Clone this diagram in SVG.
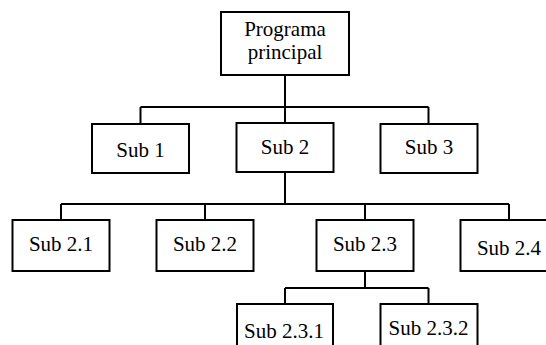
<svg xmlns="http://www.w3.org/2000/svg" width="546" height="345" viewBox="0 0 546 345">
  <style>
    .box { fill: #ffffff; stroke: #000000; stroke-width: 2; }
    .link { fill: none; stroke: #000000; stroke-width: 2; }
    .label { font-family: 'Liberation Serif', 'Times New Roman', Times, 'DejaVu Serif', serif; font-size: 21px; fill: #000000; text-anchor: middle; }
  </style>
  <rect width="546" height="345" fill="#ffffff"/>

  <!-- hierarchy connectors -->
  <g id="connectors">
    <path class="link" d="M285 75 V107 M140.5 107 H428.5 M140.5 107 V124 M285 107 V123 M428.5 107 V124"/>
    <path class="link" d="M285 172 V204 M61 204 H509 M61 204 V220 M205 204 V220 M365 204 V220 M509 204 V220"/>
    <path class="link" d="M365 271 V288 M285 288 H428.5 M285 288 V304 M428.5 288 V304"/>
  </g>

  <g id="programa-principal">
    <rect class="box" x="221" y="12" width="128" height="63"/>
    <text class="label" x="285" y="36" font-family="Liberation Serif, serif">Programa</text>
    <text class="label" x="285" y="59" font-family="Liberation Serif, serif">principal</text>
  </g>

  <g id="sub-1">
    <rect class="box" x="92" y="124" width="97" height="49"/>
    <text class="label" x="140.5" y="157">Sub 1</text>
  </g>
  <g id="sub-2">
    <rect class="box" x="236.5" y="123" width="97" height="49"/>
    <text class="label" x="285" y="154">Sub 2</text>
  </g>
  <g id="sub-3">
    <rect class="box" x="380.5" y="124" width="97" height="49"/>
    <text class="label" x="429" y="154">Sub 3</text>
  </g>

  <g id="sub-2-1">
    <rect class="box" x="12.5" y="220" width="97" height="51"/>
    <text class="label" x="61" y="251">Sub 2.1</text>
  </g>
  <g id="sub-2-2">
    <rect class="box" x="156.5" y="220" width="97" height="51"/>
    <text class="label" x="205" y="251">Sub 2.2</text>
  </g>
  <g id="sub-2-3">
    <rect class="box" x="316.5" y="220" width="97" height="51"/>
    <text class="label" x="365" y="251">Sub 2.3</text>
  </g>
  <g id="sub-2-4">
    <rect class="box" x="460.5" y="220" width="97" height="51"/>
    <text class="label" x="509" y="255">Sub 2.4</text>
  </g>

  <g id="sub-2-3-1">
    <rect class="box" x="237" y="304" width="96" height="50"/>
    <text class="label" x="284" y="338">Sub 2.3.1</text>
  </g>
  <g id="sub-2-3-2">
    <rect class="box" x="380.5" y="304" width="97" height="50"/>
    <text class="label" x="428.5" y="335">Sub 2.3.2</text>
  </g>
</svg>
